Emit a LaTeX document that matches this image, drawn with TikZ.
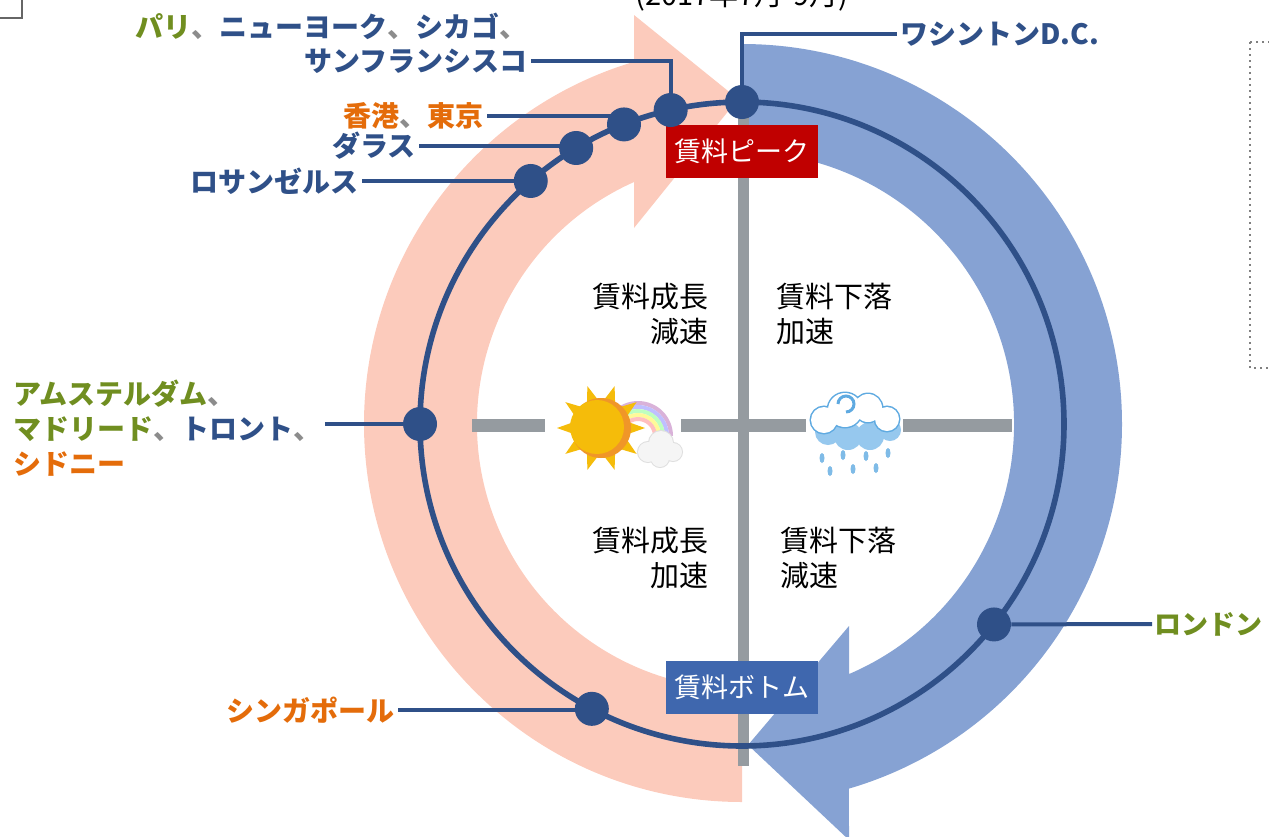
\documentclass[tikz,border=0pt]{standalone}
\usepackage{fontspec}
\setmainfont{Noto Sans CJK JP}
\usetikzlibrary{positioning,calc}
\definecolor{ringblue}{RGB}{47,80,136}
\definecolor{pinkband}{RGB}{252,203,188}
\definecolor{blueband}{RGB}{134,162,211}
\definecolor{crossgray}{RGB}{149,155,160}
\definecolor{peakred}{RGB}{192,0,0}
\definecolor{bottomblue}{RGB}{63,103,174}
\definecolor{cgreen}{RGB}{112,142,32}
\definecolor{corange}{RGB}{228,108,10}
\definecolor{commagray}{RGB}{140,140,140}
\definecolor{sunyellow}{RGB}{245,188,10}
\definecolor{sunorange}{RGB}{240,150,40}
\definecolor{cloudline}{RGB}{95,170,225}
\definecolor{cloudfill}{RGB}{150,200,238}
\newcommand{\grn}[1]{{\color{cgreen}#1}}
\newcommand{\org}[1]{{\color{corange}#1}}
\newcommand{\sepc}{{\color{commagray}、}}
\begin{document}
\begin{tikzpicture}[x=0.5pt,y=-0.5pt,
  dot/.style={circle,fill=ringblue,inner sep=0pt,minimum size=17pt},
  leader/.style={ringblue,line width=2pt},
  lbl/.style={text=ringblue,font=\bfseries\fontsize{14}{17.5}\selectfont,inner sep=1.5pt},
  quad/.style={font=\fontsize{14.5}{17.5}\selectfont,inner sep=0pt},
  phase/.style={text=white,font=\fontsize{13.5}{16}\selectfont,minimum width=76pt,minimum height=26.5pt,inner sep=0pt},
  cross/.style={crossgray}]
\useasboundingbox (0,0) rectangle (1269,836);
\clip (0,0) rectangle (1269,836);
\coordinate (C) at (742,424);

\fill[blueband] ($(C)+(-90:380)$) arc[start angle=-90,end angle=73.65,radius=380] -- (849,840) -- (748,745) -- (849,626) -- ($(C)+(66.83:272)$) arc[start angle=66.83,end angle=-90,radius=272] -- cycle;
\fill[pinkband] ($(C)+(90:378)$) arc[start angle=90,end angle=253.4,radius=378] -- (634,15) -- (738,99) -- (634,228) -- ($(C)+(245.95:265)$) arc[start angle=245.95,end angle=90,radius=265] -- cycle;

\draw[cross,line width=5.5pt] (743,101) -- (743,766);
\draw[cross,line width=6.5pt] (472,425) -- (1012,425);

% sun
\fill[white] (545,362) rectangle (681,492);
\foreach \r/\c in {33/violet!30,29/blue!25,25/green!25,21/yellow!40,17/red!25}
  \draw[\c,line width=2pt] (638+\r,436) arc[start angle=0,end angle=-180,radius=\r];
\foreach \a in {0,36,...,324}
  \fill[sunyellow,shift={(601,428)}] (\a:44) -- (\a+15:26) -- (\a-15:26) -- cycle;
\fill[sunorange] (601,428) circle[radius=30];
\fill[sunyellow] (597,427) circle[radius=27];
\draw[gray!25,line width=1pt] (648,452) circle[radius=10] (661,443) circle[radius=12] (673,452) circle[radius=9] (660,458) circle[radius=9];
\fill[white!92!gray] (648,452) circle[radius=10] (661,443) circle[radius=12] (673,452) circle[radius=9] (660,458) circle[radius=9];

% rain cloud
\fill[white] (806,385) rectangle (903,482);
\fill[cloudfill] (828,432) circle[radius=13] (848,436) circle[radius=14] (870,436) circle[radius=14] (890,430) circle[radius=11];
\draw[cloudline,line width=1.5pt] (824,420) circle[radius=13] (845,410) circle[radius=17] (868,408) circle[radius=14] (887,419) circle[radius=12];
\fill[white] (824,420) circle[radius=13] (845,410) circle[radius=17] (868,408) circle[radius=14] (887,419) circle[radius=12];
\draw[cloudline,line width=1.5pt] (838,404) arc[start angle=180,end angle=450,radius=8];
\foreach \p in {(822,458),(843,455),(866,456),(888,453),(830,471),(853,469),(876,468)}
  \fill[cloudline!80] \p ellipse[x radius=2.5,y radius=5];

\draw[ringblue,line width=2.8pt] (C) circle[radius=322];

\node[phase,fill=peakred] (peak) at (742,151.5) {賃料ピーク};
\node[phase,fill=bottomblue] (bottom) at (742,687) {賃料ボトム};

\foreach \n/\a in {dc/-90,sf/-102.8,hk/-111.5,da/-121,la/-131,ams/180,sg/117.8,lon/38.5}
  \node[dot] (\n) at ($(C)+(\a:322)$) {};

\node[quad,anchor=east,align=right] (q1) at (709,314) {賃料成長\\減速};
\node[quad,anchor=west,align=left] (q2) at (776,314) {賃料下落\\加速};
\node[quad,anchor=east,align=right] (q3) at (709,558) {賃料成長\\加速};
\node[quad,anchor=west,align=left] (q4) at (780,558) {賃料下落\\減速};
\node[quad] (period) at (742,-4) {(2017年7月-9月)};

\node[lbl,anchor=west] (dcl) at (897,34) {ワシントンD.C.};
\node[lbl,anchor=east] (sfl) at (531,61) {サンフランシスコ};
\node[lbl,above=1pt of sfl.north east,anchor=south east] (parl) {\grn{パリ}\sepc ニューヨーク\sepc シカゴ\sepc};
\node[lbl,anchor=east] (hkl) at (487,116) {\org{香港}\sepc\org{東京}};
\node[lbl,anchor=east] (dal) at (419,146) {ダラス};
\node[lbl,anchor=east] (lal) at (362,181) {ロサンゼルス};
\node[lbl,anchor=west,align=left] (amsl) at (10,428) {\grn{アムステルダム}\sepc\\\grn{マドリード}\sepc トロント\sepc\\\org{シドニー}};
\node[lbl,anchor=east] (sgl) at (398,710) {\org{シンガポール}};
\node[lbl,anchor=west,inner sep=1pt,font=\bfseries\fontsize{13.5}{16}\selectfont] (lonl) at (1152,624) {\grn{ロンドン}};

\draw[leader] (dc) |- (dcl.west);
\draw[leader] (sf) |- (sfl.east);
\draw[leader] (hkl.east) -- (hkl.east -| hk);
\draw[leader] (dal.east) -- (dal.east -| da);
\draw[leader] (lal.east) -- (lal.east -| la);
\draw[leader] (amsl.east |- ams) -- (ams);
\draw[leader] (sgl.east) -- (sgl.east -| sg);
\draw[leader] (lon) -- (lonl.west);

\draw[black!60,line width=1pt] (-20,-20) rectangle (22,18);
\draw[gray,dotted,line width=1pt] (1250,42) rectangle (1300,368);
\end{tikzpicture}
\end{document}
